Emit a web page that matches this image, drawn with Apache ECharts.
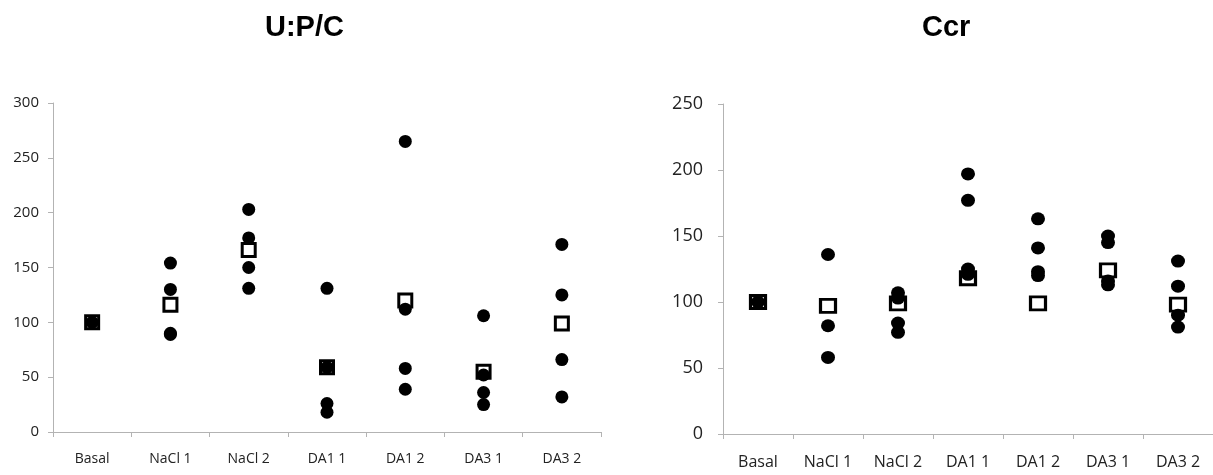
<!DOCTYPE html>
<html>
<head>
<meta charset="utf-8">
<script src="https://cdn.jsdelivr.net/npm/echarts@6/dist/echarts.min.js"></script>
<style>
  html, body { margin: 0; padding: 0; background: #fff; }
  #chart { width: 1213px; height: 475px; }
</style>
</head>
<body>
<div id="chart"></div>
<script>
  // categories shared by both panels
  var categories = ['Basal', 'NaCl 1', 'NaCl 2', 'DA1 1', 'DA1 2', 'DA3 1', 'DA3 2'];

  // U:P/C — individual values (dots) and mean (open square), one list per category
  var upcDots = [
    [100],
    [154, 130, 90, 89],
    [203, 177, 150, 131],
    [131, 59, 26, 18],
    [265, 112, 58, 39],
    [106, 52, 36, 25],
    [171, 125, 66, 32]
  ];
  var upcMeans = [100, 116, 166, 59, 120, 55, 99];

  // Ccr
  var ccrDots = [
    [100],
    [136, 82, 58],
    [107, 103, 84, 77],
    [197, 177, 125, 121],
    [163, 141, 123, 120],
    [150, 145, 116, 113],
    [131, 112, 90, 81]
  ];
  var ccrMeans = [100, 97, 99, 118, 99, 124, 98];

  var upcTicks = { min: 0, max: 300, interval: 50 };
  var ccrTicks = { min: 0, max: 250, interval: 50 };

  // turn per-category lists into [category, value] pairs
  function toPairs(lists) {
    var out = [];
    for (var i = 0; i < lists.length; i++) {
      for (var j = 0; j < lists[i].length; j++) {
        out.push([categories[i], lists[i][j]]);
      }
    }
    return out;
  }
  function meanPairs(vals) {
    return vals.map(function (v, i) { return [categories[i], v]; });
  }

  var axisGrey = '#b3b3b3';
  var labelFont = '"Open Sans", sans-serif';
  var titleFont = '"Liberation Sans", Arial, sans-serif';

  function xAxisCfg(gridIndex, fontSize, margin) {
    return {
      type: 'category',
      gridIndex: gridIndex,
      data: categories,
      boundaryGap: true,
      axisLine: { lineStyle: { color: axisGrey, width: 1 } },
      axisTick: { show: true, length: 5, lineStyle: { color: axisGrey } },
      axisLabel: { color: '#222', fontFamily: labelFont, fontSize: fontSize, margin: margin },
      splitLine: { show: false }
    };
  }
  function yAxisCfg(gridIndex, ticks, fontSize, margin) {
    return {
      type: 'value',
      gridIndex: gridIndex,
      min: ticks.min,
      max: ticks.max,
      interval: ticks.interval,
      axisLine: { show: true, lineStyle: { color: axisGrey, width: 1 } },
      axisTick: { show: true, length: 5, lineStyle: { color: axisGrey } },
      axisLabel: { color: '#222', fontFamily: labelFont, fontSize: fontSize, margin: margin },
      splitLine: { show: false }
    };
  }

  var option = {
    backgroundColor: '#fff',
    animation: false,
    title: [
      {
        text: 'U:P/C', left: 265, top: 13, padding: 0,
        textStyle: { fontFamily: titleFont, fontWeight: 'bold', fontSize: 29, color: '#000' }
      },
      {
        text: 'Ccr', left: 922, top: 13, padding: 0,
        textStyle: { fontFamily: titleFont, fontWeight: 'bold', fontSize: 29, color: '#000' }
      }
    ],
    grid: [
      { left: 53, top: 103, width: 548, height: 329 },
      { left: 723, top: 104, width: 494, height: 330 }
    ],
    xAxis: [xAxisCfg(0, 14, 20), xAxisCfg(1, 16, 20)],
    yAxis: [yAxisCfg(0, upcTicks, 15, 14), yAxisCfg(1, ccrTicks, 18, 20)],
    series: [
      {
        name: 'U:P/C mean', type: 'scatter', xAxisIndex: 0, yAxisIndex: 0, z: 2,
        symbol: 'rect', symbolSize: 13,
        itemStyle: { color: '#fff', borderColor: '#000', borderWidth: 3, opacity: 1 },
        data: meanPairs(upcMeans)
      },
      {
        name: 'U:P/C', type: 'scatter', xAxisIndex: 0, yAxisIndex: 0, z: 3,
        symbol: 'circle', symbolSize: 13,
        itemStyle: { color: '#000', opacity: 1 },
        data: toPairs(upcDots)
      },
      {
        name: 'Ccr mean', type: 'scatter', xAxisIndex: 1, yAxisIndex: 1, z: 2,
        symbol: 'rect', symbolSize: [15, 13],
        itemStyle: { color: '#fff', borderColor: '#000', borderWidth: 3, opacity: 1 },
        data: meanPairs(ccrMeans)
      },
      {
        name: 'Ccr', type: 'scatter', xAxisIndex: 1, yAxisIndex: 1, z: 3,
        symbol: 'circle', symbolSize: [14, 13],
        itemStyle: { color: '#000', opacity: 1 },
        data: toPairs(ccrDots)
      }
    ]
  };

  var myChart = echarts.init(document.getElementById('chart'));
  myChart.setOption(option);
</script>
</body>
</html>
